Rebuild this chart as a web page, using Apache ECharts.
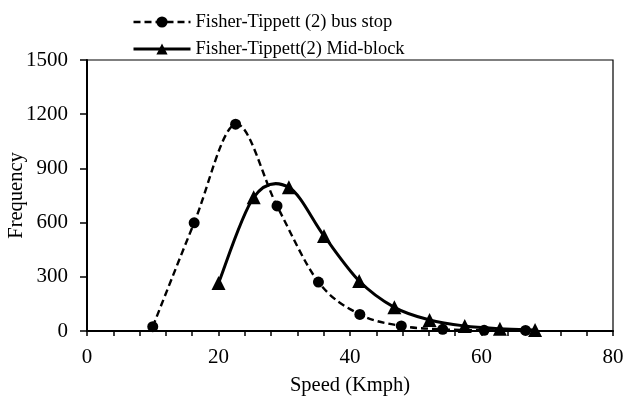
<!DOCTYPE html>
<html>
<head>
<meta charset="utf-8">
<script src="https://cdn.jsdelivr.net/npm/echarts@6/dist/echarts.min.js"></script>
<style>
  html, body { margin: 0; padding: 0; background: #fff; }
  #chart { width: 624px; height: 402px; }
</style>
</head>
<body>
<div id="chart"></div>
<script>
// Fitted Fisher-Tippett (2) frequency curves by speed
var busStopSpeed = [10.0, 16.3, 22.6, 28.9, 35.2, 41.5, 47.8, 54.1, 60.4, 66.7];
var busStopFreq  = [24, 599, 1145, 692, 271, 92, 28, 9, 4, 3];

var midBlockSpeed = [20.0, 25.35, 30.7, 36.05, 41.4, 46.75, 52.1, 57.45, 62.8, 68.15];
var midBlockFreq  = [265, 740, 795, 526, 277, 131, 61, 28, 13, 5];

var seriesNames = ['Fisher-Tippett (2) bus stop', 'Fisher-Tippett(2) Mid-block'];
var xMajorLabels = [0, 20, 40, 60, 80];

function pairs(xs, ys) {
  return xs.map(function (x, i) { return [x, ys[i]]; });
}

// Smooth curve through the points (Catmull-Rom spline converted to cubic Bezier),
// positioned with the chart's own axis scales via api.coord.
function smoothCurve(xs, ys, dash, width) {
  return function (params, api) {
    if (params.dataIndex !== 0) return null;
    var p = xs.map(function (x, i) { return api.coord([x, ys[i]]); });
    var n = p.length;
    var d = 'M' + p[0][0] + ' ' + p[0][1];
    for (var i = 0; i < n - 1; i++) {
      var p0 = p[Math.max(i - 1, 0)];
      var p1 = p[i];
      var p2 = p[i + 1];
      var p3 = p[Math.min(i + 2, n - 1)];
      var c1x = p1[0] + (p2[0] - p0[0]) / 6;
      var c1y = p1[1] + (p2[1] - p0[1]) / 6;
      var c2x = p2[0] - (p3[0] - p1[0]) / 6;
      var c2y = p2[1] - (p3[1] - p1[1]) / 6;
      d += ' C' + c1x + ' ' + c1y + ' ' + c2x + ' ' + c2y + ' ' + p2[0] + ' ' + p2[1];
    }
    return {
      type: 'path',
      shape: { pathData: d },
      style: { fill: 'none', stroke: '#000', lineWidth: width, lineDash: dash }
    };
  };
}

var font = "'Liberation Serif', 'Times New Roman', serif";
var chart = echarts.init(document.getElementById('chart'), null, { renderer: 'canvas' });

chart.setOption({
  animation: false,
  backgroundColor: '#ffffff',
  textStyle: { fontFamily: font, color: '#000' },
  legend: {
    orient: 'vertical',
    left: 132,
    top: 12,
    padding: 0,
    itemWidth: 57,
    itemHeight: 14,
    itemGap: 7,
    textStyle: { fontFamily: font, fontSize: 18.5, lineHeight: 20, color: '#000' },
    data: [
      { name: seriesNames[0], lineStyle: { opacity: 1, width: 2.4, type: [7, 4], color: '#000' } },
      { name: seriesNames[1], lineStyle: { opacity: 1, width: 3, type: 'solid', color: '#000' } }
    ]
  },
  grid: {
    left: 87, right: 11, top: 60, bottom: 71,
    containLabel: false,
    outerBoundsMode: 'none',
    show: true, borderColor: '#000', borderWidth: 1.2
  },
  xAxis: {
    type: 'value',
    min: 0, max: 80, interval: 4,
    name: 'Speed (Kmph)',
    nameLocation: 'middle',
    nameGap: 44,
    nameMoveOverlap: false,
    nameTextStyle: { fontFamily: font, fontSize: 20.5, color: '#000' },
    axisLine: { onZero: false, lineStyle: { color: '#000', width: 2 } },
    axisTick: { show: true, length: 5, lineStyle: { color: '#000', width: 1.5 } },
    axisLabel: {
      fontFamily: font, fontSize: 21, color: '#000', margin: 16,
      formatter: function (v) { return xMajorLabels.indexOf(v) >= 0 ? String(v) : ''; }
    },
    splitLine: { show: false }
  },
  yAxis: {
    type: 'value',
    min: 0, max: 1500, interval: 300,
    name: 'Frequency',
    nameLocation: 'middle',
    nameGap: 60,
    nameMoveOverlap: false,
    nameTextStyle: { fontFamily: font, fontSize: 20.5, color: '#000' },
    axisLine: { show: true, lineStyle: { color: '#000', width: 2 } },
    axisTick: { show: true, length: 7, lineStyle: { color: '#000', width: 1.5 } },
    axisLabel: {
      fontFamily: font, fontSize: 21, color: '#000', margin: 19,
      formatter: function (v) { return String(v); }
    },
    splitLine: { show: false }
  },
  series: [
    {
      name: seriesNames[0],
      type: 'line',
      z: 3,
      data: pairs(busStopSpeed, busStopFreq),
      symbol: 'circle',
      symbolSize: 11,
      itemStyle: { color: '#000' },
      lineStyle: { color: '#000', width: 2.4, type: [7, 4], opacity: 0 }
    },
    {
      name: seriesNames[1],
      type: 'line',
      z: 3,
      data: pairs(midBlockSpeed, midBlockFreq),
      symbol: 'triangle',
      symbolSize: 14,
      itemStyle: { color: '#000' },
      lineStyle: { color: '#000', width: 3, opacity: 0 }
    },
    {
      name: 'bus stop curve',
      type: 'custom',
      z: 2,
      data: pairs(busStopSpeed, busStopFreq),
      encode: { x: 0, y: 1 },
      renderItem: smoothCurve(busStopSpeed, busStopFreq, [7, 4], 2.4)
    },
    {
      name: 'mid-block curve',
      type: 'custom',
      z: 2,
      data: pairs(midBlockSpeed, midBlockFreq),
      encode: { x: 0, y: 1 },
      renderItem: smoothCurve(midBlockSpeed, midBlockFreq, null, 3)
    }
  ]
});
</script>
</body>
</html>
